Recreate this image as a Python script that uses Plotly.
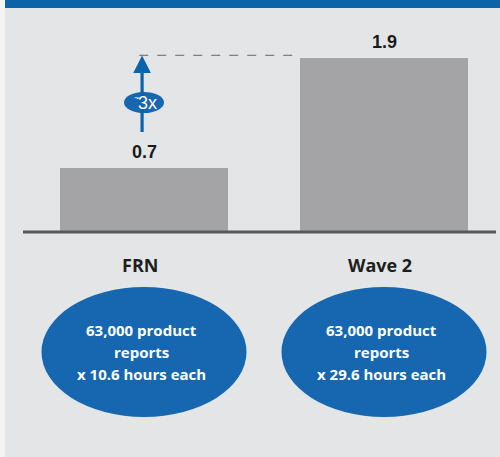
import plotly.graph_objects as go

# Data
categories = ["FRN", "Wave 2"]
values = [0.7, 1.9]
value_labels = ["0.7", "1.9"]
ratio_label = "3x"
detail_lines = [
    ["63,000 product", "reports", "x 10.6 hours each"],
    ["63,000 product", "reports", "x 29.6 hours each"],
]

# Styling
W, H = 500, 457
BG = "#e4e5e7"
BLUE = "#0b64a9"
OVAL_BLUE = "#1767b0"
BAR_GRAY = "#a4a4a7"
AXIS_GRAY = "#58585b"

# Axis geometry: 0 sits at pixel row 232, ~91.5 px per unit; categories 240 px apart
PX_PER_UNIT = 91.5
ZERO_ROW = 232
PX_PER_CAT = 240
FIRST_CAT_PX = 144
y_range = [-(H - ZERO_ROW) / PX_PER_UNIT, ZERO_ROW / PX_PER_UNIT]
x_range = [-FIRST_CAT_PX / PX_PER_CAT, (W - FIRST_CAT_PX) / PX_PER_CAT]
BAR_WIDTH = 0.7


def py(px):
    """Pixel row -> y data value."""
    return (ZERO_ROW - px) / PX_PER_UNIT


xs = list(range(len(categories)))

fig = go.Figure()
fig.add_trace(go.Bar(
    x=xs, y=values, width=BAR_WIDTH,
    marker=dict(color=BAR_GRAY, line=dict(width=0)),
    hoverinfo="skip", showlegend=False,
))

shapes = [
    # panel background and top band
    dict(type="rect", xref="paper", yref="paper", x0=5 / W, x1=1, y0=0, y1=1,
         fillcolor=BG, line=dict(width=0), layer="below"),
    dict(type="rect", xref="paper", yref="paper", x0=5 / W, x1=1, y0=1 - 8 / H, y1=1,
         fillcolor=BLUE, line=dict(width=0), layer="below"),
    # baseline
    dict(type="line", xref="paper", yref="y", x0=23 / W, x1=496 / W, y0=0, y1=0,
         line=dict(color=AXIS_GRAY, width=3), layer="above"),
    # dashed guide at the taller bar's level
    dict(type="line", xref="x", yref="y", x0=-0.02, x1=xs[1] - BAR_WIDTH / 2,
         y0=values[1] + 0.03, y1=values[1] + 0.03,
         line=dict(color="#808083", width=1.2, dash="dash"), layer="above"),
]

annotations = []

# arrow from the smaller bar up to the larger value
arrow_tail = py(142)
annotations.append(dict(
    x=xs[0] - 0.008, y=values[1] + 0.03, ax=xs[0] - 0.008, ay=arrow_tail,
    xref="x", yref="y", axref="x", ayref="y",
    showarrow=True, arrowhead=2, arrowsize=1.1, arrowwidth=3.2,
    arrowcolor=BLUE, text=" ",
))

# ratio oval
oval_cy = py(102.5)
shapes.append(dict(
    type="circle", xref="x", yref="y",
    x0=xs[0] - 20 / PX_PER_CAT, x1=xs[0] + 20 / PX_PER_CAT,
    y0=oval_cy - 10.5 / PX_PER_UNIT, y1=oval_cy + 10.5 / PX_PER_UNIT,
    fillcolor=OVAL_BLUE, line=dict(width=0), layer="above",
))
annotations.append(dict(
    x=xs[0] + 0.014, y=oval_cy, xref="x", yref="y", showarrow=False,
    text=ratio_label,
    font=dict(family="Liberation Sans Narrow, Liberation Sans, Arial", size=18, color="white"),
))
annotations.append(dict(
    x=xs[0] - 0.032, y=oval_cy + 0.05, xref="x", yref="y", showarrow=False,
    text="~",
    font=dict(family="Liberation Sans, Arial", size=9, color="white"),
))

# value labels above bars
for x, v, lab in zip(xs, values, value_labels):
    annotations.append(dict(
        x=x, y=v, xref="x", yref="y", showarrow=False, yshift=16,
        text="<b>" + lab + "</b>",
        font=dict(family="Liberation Sans, Arial", size=18, color="#1b1b1b"),
    ))

# category labels
for x, c in zip(xs, categories):
    annotations.append(dict(
        x=x - 0.015, y=py(264.5), xref="x", yref="y", showarrow=False,
        text="<b>" + c + "</b>",
        font=dict(family="Open Sans, sans-serif", size=18, color="#1e1e1e"),
    ))

# detail ovals with their text
line_rows = [330, 352, 373.5]
for x, lines in zip(xs, detail_lines):
    shapes.append(dict(
        type="circle", xref="x", yref="y",
        x0=x - 102.5 / PX_PER_CAT, x1=x + 102.5 / PX_PER_CAT,
        y0=py(417), y1=py(287),
        fillcolor=OVAL_BLUE, line=dict(width=0), layer="above",
    ))
    for row, t in zip(line_rows, lines):
        annotations.append(dict(
            x=x - 0.01, y=py(row), xref="x", yref="y", showarrow=False,
            text="<b>" + t + "</b>",
            font=dict(family="Open Sans, sans-serif", size=15, color="white"),
        ))

fig.update_layout(
    width=W, height=H,
    margin=dict(l=0, r=0, t=0, b=0),
    paper_bgcolor="#f4f4f5",
    plot_bgcolor="rgba(0,0,0,0)",
    xaxis=dict(range=x_range, visible=False, fixedrange=True),
    yaxis=dict(range=y_range, visible=False, fixedrange=True),
    shapes=shapes,
    annotations=annotations,
    bargap=0,
)

fig.write_html("out.html")
